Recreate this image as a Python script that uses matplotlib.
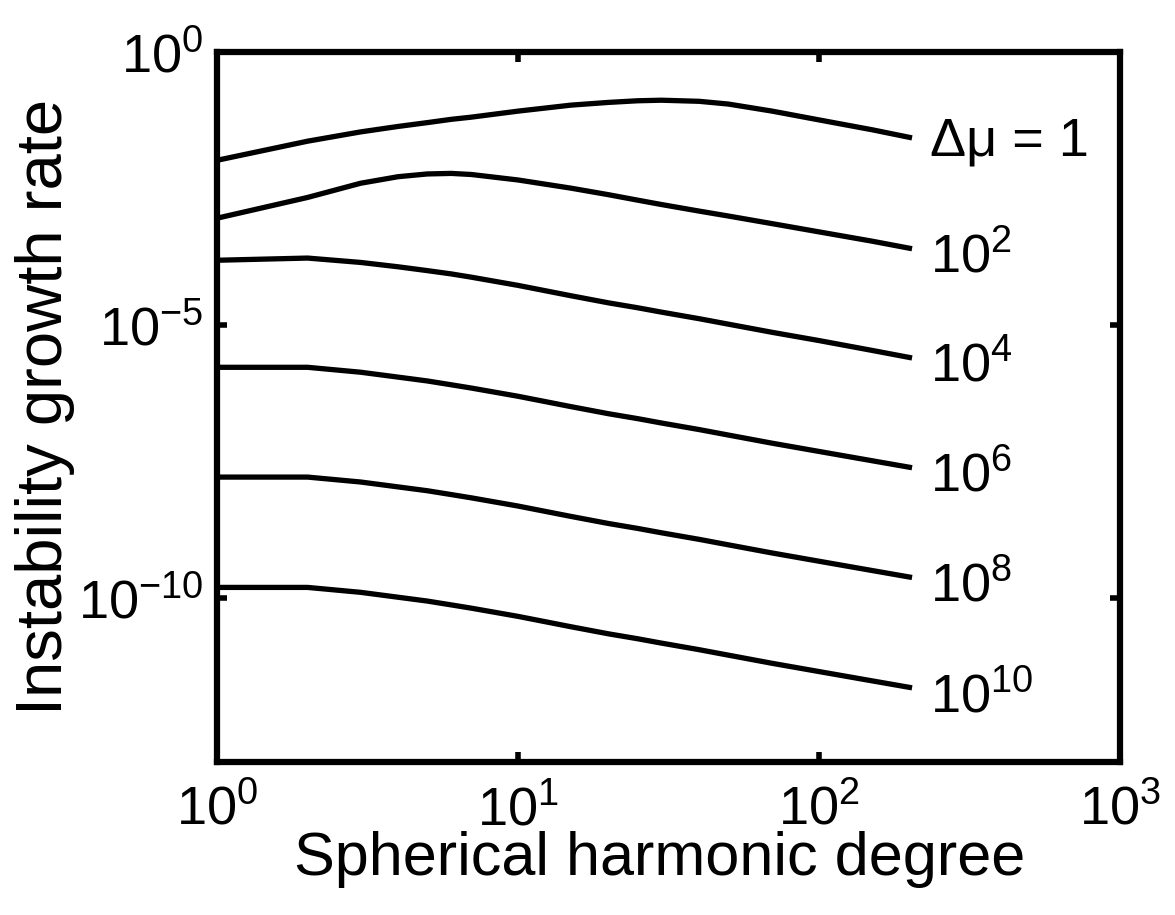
import numpy as np
import matplotlib
matplotlib.use("Agg")
import matplotlib.pyplot as plt

# spherical harmonic degree (sample points)
degree = [1, 2, 3, 4, 5, 6, 7, 10, 15, 20, 25, 30, 40, 50, 70, 100, 150, 200]

# log10 of instability growth rate, one list per viscosity contrast
log_rate_1 = [-1.98, -1.63, -1.46, -1.36, -1.29, -1.23, -1.19, -1.08, -0.97, -0.92,
              -0.89, -0.88, -0.90, -0.95, -1.08, -1.24, -1.42, -1.56]
log_rate_1e2 = [-3.04, -2.66, -2.40, -2.28, -2.23, -2.22, -2.24, -2.34, -2.49, -2.61,
                -2.71, -2.79, -2.91, -3.00, -3.14, -3.29, -3.46, -3.59]
log_rate_1e4 = [-3.81, -3.77, -3.85, -3.93, -4.00, -4.06, -4.12, -4.27, -4.46, -4.59,
                -4.68, -4.76, -4.88, -4.98, -5.13, -5.28, -5.46, -5.59]
log_rate_1e6 = [-5.77, -5.77, -5.86, -5.95, -6.02, -6.09, -6.15, -6.30, -6.49, -6.62,
                -6.71, -6.79, -6.91, -7.01, -7.16, -7.31, -7.48, -7.60]
log_rate_1e8 = [-7.78, -7.78, -7.87, -7.96, -8.03, -8.10, -8.16, -8.31, -8.50, -8.63,
                -8.72, -8.80, -8.92, -9.02, -9.17, -9.32, -9.49, -9.61]
log_rate_1e10 = [-9.80, -9.80, -9.89, -9.98, -10.05, -10.12, -10.18, -10.33, -10.52, -10.65,
                 -10.74, -10.82, -10.94, -11.04, -11.19, -11.34, -11.51, -11.63]

curves = [log_rate_1, log_rate_1e2, log_rate_1e4, log_rate_1e6, log_rate_1e8, log_rate_1e10]
labels = ["\u0394\u03bc = 1", "$10^{2}$", "$10^{4}$", "$10^{6}$", "$10^{8}$", "$10^{10}$"]

plt.rcParams['font.family'] = ['Liberation Sans', 'DejaVu Sans']
plt.rcParams['mathtext.default'] = 'regular'

fig = plt.figure(figsize=(11.75, 9.15), dpi=100)
ax = fig.add_axes([0.1847, 0.167, 0.7683, 0.776])

for i in range(len(curves)):
    rate = 10.0 ** np.array(curves[i])
    ax.plot(degree, rate, color='black', linewidth=3.8, solid_joinstyle='round')
    dy = -13 if i == 0 else -17.5
    ax.annotate(labels[i], xy=(degree[-1], rate[-1]), xytext=(15, dy),
                textcoords='offset points', va='baseline', ha='left', fontsize=39)

ax.set_xscale('log')
ax.set_yscale('log')
ax.set_xlim(1, 1000)
ax.set_ylim(1e-13, 1e0)
ax.set_xticks([1, 10, 100, 1000])
ax.set_yticks([1e-10, 1e-5, 1e0])
ax.minorticks_off()

for s in ax.spines.values():
    s.set_linewidth(4.5)
ax.tick_params(which='both', direction='in', length=7, width=4,
               top=True, right=True, labelsize=39)
ax.tick_params(axis='x', pad=16)
ax.tick_params(axis='y', pad=10)

ax.set_xlabel("Spherical harmonic degree", fontsize=44)
ax.set_ylabel("Instability growth rate", fontsize=47)
ax.xaxis.set_label_coords(0.49, -0.097)
ax.yaxis.set_label_coords(-0.157, 0.5)

fig.savefig("out.png", dpi=100)
